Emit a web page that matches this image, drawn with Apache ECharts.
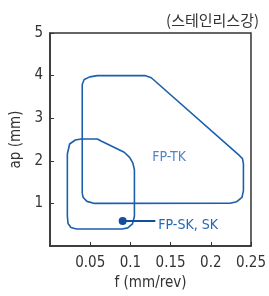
<!DOCTYPE html>
<html>
<head>
<meta charset="utf-8">
<script src="https://cdn.jsdelivr.net/npm/echarts@6/dist/echarts.min.js"></script>
<style>
html, body { margin: 0; padding: 0; background: #fff; }
#chart { width: 269px; height: 296px; }
</style>
</head>
<body>
<div id="chart"></div>
<script>
// FP-TK region outline, [f, ap]
var tkOutline = [
    [0.0401, 1.23], [0.0401, 3.79], [0.0425, 3.91], [0.0495, 3.97], [0.059, 4.0],
    [0.118, 4.0], [0.126, 3.95], [0.2358, 2.12], [0.2394, 2.05], [0.2406, 1.93],
    [0.2406, 1.30], [0.2388, 1.14], [0.2323, 1.04], [0.224, 1.005], [0.0554, 1.0],
    [0.046, 1.047], [0.0413, 1.14], [0.0401, 1.23]
];
// FP-SK, SK region outline
var skOutline = [
    [0.0216, 0.70], [0.0216, 2.16], [0.0244, 2.395], [0.0315, 2.488], [0.0389, 2.512],
    [0.059, 2.512], [0.0629, 2.472], [0.0923, 2.20], [0.099, 2.08], [0.103, 1.95],
    [0.105, 1.79], [0.105, 0.70], [0.1026, 0.52], [0.0967, 0.425], [0.0896, 0.40],
    [0.033, 0.40], [0.026, 0.435], [0.0224, 0.53], [0.0216, 0.70]
];
var skDot = [0.0904, 0.588];
var skLeader = [[0.0904, 0.588], [0.131, 0.588]];
var tkLabelPos = [0.121, 2.08];

var xTicks = [0, 0.25, 0.05];   // min, max, step
var yTicks = [0, 5, 1];

var narrow = "'Liberation Sans Narrow', 'DejaVu Sans Condensed', sans-serif";
var blue = '#1b5fad';

var myChart = echarts.init(document.getElementById('chart'));

option = {
    animation: false,
    title: {
        text: '(스테인리스강)',
        right: 10,
        top: 13,
        padding: 0,
        textStyle: {
            fontFamily: "'Noto Sans CJK KR', sans-serif",
            fontSize: 15,
            fontWeight: 'normal',
            color: '#333'
        }
    },
    grid: {
        left: 50, top: 33, right: 7, bottom: 48,
        show: true,
        borderColor: '#333',
        borderWidth: 1.5
    },
    xAxis: {
        type: 'value',
        min: xTicks[0], max: xTicks[1], interval: xTicks[2],
        name: 'f (mm/rev)',
        nameLocation: 'middle',
        nameGap: 30,
        nameTextStyle: { fontFamily: narrow, fontSize: 15, color: '#333' },
        axisLine: { lineStyle: { color: '#333', width: 1.5 } },
        axisTick: { inside: true, length: 4, lineStyle: { color: '#333' } },
        axisLabel: { showMinLabel: false, fontFamily: narrow, fontSize: 15, color: '#333', margin: 10 },
        splitLine: { show: false }
    },
    yAxis: {
        type: 'value',
        min: yTicks[0], max: yTicks[1], interval: yTicks[2],
        name: 'ap (mm)',
        nameLocation: 'middle',
        nameGap: 16,
        nameTextStyle: { fontFamily: narrow, fontSize: 15, color: '#333' },
        axisLine: { lineStyle: { color: '#333', width: 1.5 } },
        axisTick: { inside: true, length: 4, lineStyle: { color: '#333' } },
        axisLabel: { showMinLabel: false, fontFamily: narrow, fontSize: 15, color: '#333', margin: 7 },
        splitLine: { show: false }
    },
    series: [{
        type: 'line',
        data: tkOutline,
        symbol: 'none',
        lineStyle: { color: blue, width: 1.6 }
    }, {
        type: 'line',
        data: skOutline,
        symbol: 'none',
        lineStyle: { color: blue, width: 1.6 }
    }, {
        type: 'line',
        data: skLeader,
        symbol: 'none',
        lineStyle: { color: '#0f4f9e', width: 2 },
        endLabel: {
            show: true,
            formatter: 'FP-SK, SK',
            distance: 3,
            offset: [0, 4],
            fontFamily: narrow,
            fontSize: 14,
            color: '#2468b5'
        }
    }, {
        type: 'scatter',
        data: [skDot],
        symbolSize: 8,
        itemStyle: { color: '#0f4f9e', opacity: 1 }
    }, {
        type: 'scatter',
        data: [tkLabelPos],
        symbolSize: 0,
        label: {
            show: true,
            formatter: 'FP-TK',
            position: 'right',
            distance: 0,
            offset: [5, 0],
            fontFamily: narrow,
            fontSize: 14,
            color: '#2468b5'
        }
    }]
};
myChart.setOption(option);
</script>
</body>
</html>
